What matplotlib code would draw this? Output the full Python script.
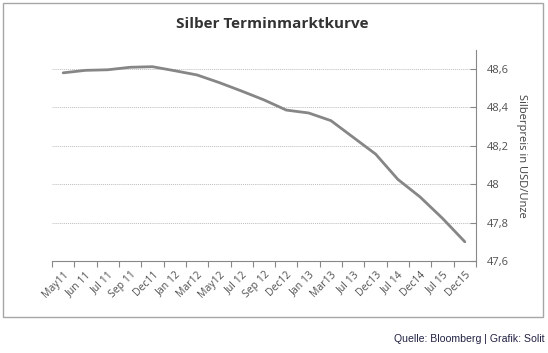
import numpy as np
import matplotlib.pyplot as plt
from matplotlib.patches import Rectangle

# Daten
kontrakte = ['May11', 'Jun 11', 'Jul 11', 'Sep 11', 'Dec11', 'Jan 12', 'Mar12', 'May12', 'Jul 12',
             'Sep 12', 'Dec12', 'Jan 13', 'Mar13', 'Jul 13', 'Dec13', 'Jul 14', 'Dec14', 'Jul 15', 'Dec15']
preis = [48.58, 48.593, 48.596, 48.609, 48.612, 48.591, 48.569, 48.529, 48.485, 48.439,
         48.386, 48.371, 48.331, 48.244, 48.157, 48.025, 47.933, 47.822, 47.70]
y_ticks = [47.6, 47.8, 48.0, 48.2, 48.4, 48.6]
y_labels = ['47,6', '47,8', '48', '48,2', '48,4', '48,6']

plt.rcParams['font.family'] = ['Open Sans', 'DejaVu Sans']

fig = plt.figure(figsize=(5.48, 3.53), dpi=100)
ax = fig.add_axes([52 / 548, 1 - 261 / 353, 424 / 548, (261 - 49.8) / 353])

x = np.arange(len(kontrakte))
ax.plot(x, preis, color='#868686', lw=2, solid_capstyle='round')

ax.set_xlim(-0.5, len(kontrakte) - 0.5)
ax.set_ylim(47.6, 48.7)

# Y-Achse rechts
ax.yaxis.tick_right()
ax.yaxis.set_label_position('right')
ax.set_yticks(y_ticks)
ax.set_yticklabels(y_labels)
ax.set_ylabel('Silberpreis in USD/Unze', rotation=270, labelpad=13, fontsize=8, color='#404040')
ax.grid(axis='y', color='#bdbdbd', ls=(0, (1, 1)), lw=0.7)

# X-Achse: Ticks an den Kategoriegrenzen
ax.set_xticks(np.arange(-0.5, len(kontrakte)), minor=False)
ax.set_xticklabels([])
ax.set_xticks(x, minor=True)
ax.set_xticklabels(kontrakte, minor=True, rotation=45, ha='right', rotation_mode='anchor',
                   fontsize=7.5, color='#505050')
ax.tick_params(axis='x', which='major', length=4, color='#888888', direction='out')
ax.tick_params(axis='x', which='minor', length=0, pad=6)
ax.tick_params(axis='y', length=4, color='#888888', direction='in', labelsize=8,
               labelcolor='#505050', pad=8)

for s in ['top', 'left']:
    ax.spines[s].set_visible(False)
ax.spines['bottom'].set_color('#888888')
ax.spines['right'].set_color('#888888')

fig.text(272 / 548, 1 - 24 / 353, 'Silber Terminmarktkurve', ha='center', va='center',
         fontsize=11, fontweight='bold', color='#333333')

# Rahmen
fig.patches.append(Rectangle((3 / 548, 1 - 317 / 353), 540 / 548, 314 / 353,
                             transform=fig.transFigure, fill=False, ec='#a6a6a6', lw=1))

fig.text(545 / 548, 1 - 339 / 353, 'Quelle: Bloomberg | Grafik: Solit', ha='right', va='center',
         fontsize=7.6, color='#222244', family='Liberation Sans')

fig.savefig('out.png', dpi=100)
